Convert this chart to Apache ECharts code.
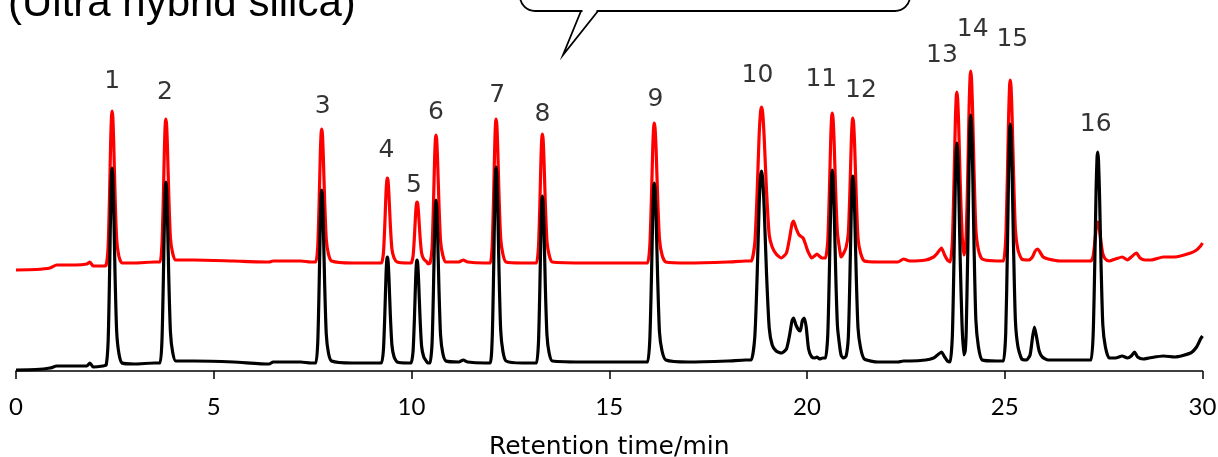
<!DOCTYPE html>
<html>
<head>
<meta charset="utf-8">
<script src="https://cdn.jsdelivr.net/npm/echarts@6/dist/echarts.min.js"></script>
<style>
html,body{margin:0;padding:0;background:#fff;}
#chart{width:1218px;height:457px;}
</style>
</head>
<body>
<div id="chart"></div>
<script>
// ---------------- data ----------------
const titleText = '(Ultra hybrid silica)';
const xAxisName = 'Retention time/min';
const xTicks = [0, 5, 10, 15, 20, 25, 30];

// Lower trace (black): [retention time / min, signal]
const blackTrace = [
 [0,1],[0.5,1.5],[0.86,3],[1.03,5],[1.5,5],[1.79,5],[1.87,8],[1.95,4],[2.2,5],
 [2.28,6],[2.33,30],[2.365,95],[2.395,168],[2.415,197],[2.43,203],[2.448,195],[2.47,164],[2.505,95],[2.545,40],[2.60,18],[2.68,8],
 [3.0,7],[3.5,8],
 [3.64,8],[3.69,30],[3.725,90],[3.755,156],[3.775,184],[3.79,189],[3.808,182],[3.83,153],[3.865,90],[3.905,39],[3.96,19],[4.04,10],
 [4.5,10],[5.5,9],[6.4,7],[6.5,9],[7.2,9],[7.45,8],
 [7.58,8],[7.63,29],[7.665,86],[7.695,150],[7.715,176],[7.73,181],[7.748,174],[7.77,146],[7.805,86],[7.845,37],[7.90,18],[7.98,10],
 [8.5,8],[9.1,8],
 [9.24,8],[9.29,21],[9.325,56],[9.355,95],[9.375,111],[9.39,114],[9.408,110],[9.43,93],[9.465,56],[9.505,26],[9.56,14],[9.64,9],
 [9.9,8],
 [9.99,8],[10.04,20],[10.075,54],[10.105,92],[10.125,108],[10.14,111],[10.158,107],[10.18,90],[10.215,54],[10.255,25],[10.31,14],[10.39,9],[10.42,8],
 [10.47,8],[10.52,28],[10.555,81],[10.585,142],[10.605,166],[10.62,171],[10.638,164],[10.66,138],[10.695,81],[10.735,36],[10.79,18],[10.87,10],
 [11.2,9],[11.31,11],[11.42,9],[11.85,8],
 [11.99,8],[12.04,32],[12.075,96],[12.105,169],[12.125,198],[12.14,204],[12.158,196],[12.18,165],[12.215,96],[12.255,41],[12.31,20],[12.39,10],
 [12.8,8],[13.05,8],
 [13.16,8],[13.21,28],[13.245,83],[13.275,145],[13.295,170],[13.31,175],[13.328,168],[13.35,142],[13.385,83],[13.425,36],[13.48,18],[13.56,10],
 [14.5,9],[15.5,9],[15.85,9],
 [15.97,9],[16.025,31],[16.065,90],[16.10,156],[16.123,183],[16.14,188],[16.16,181],[16.186,152],[16.226,90],[16.27,39],[16.335,20],[16.43,11],
 [17,9],[18,10],[18.45,11],
 [18.59,11],[18.68,34],[18.74,96],[18.79,166],[18.825,194],[18.85,200],[18.88,192],[18.918,162],[18.978,96],[19.045,43],[19.12,26],[19.22,20],[19.35,18],
 [19.48,22],[19.56,36],[19.62,50],[19.66,53],[19.72,46],[19.79,41],[19.83,40],[19.88,50],[19.93,53],[19.98,44],[20.04,22],[20.12,14],[20.2,13],[20.25,14],[20.32,12],[20.40,13],
 [20.47,13],[20.525,36],[20.565,98],[20.60,167],[20.623,195],[20.64,201],[20.66,193],[20.686,163],[20.726,98],[20.77,45],[20.835,22],[20.87,15],[20.93,13],[20.99,15],
 [21.045,34],[21.085,94],[21.12,162],[21.143,190],[21.16,195],[21.18,188],[21.206,158],[21.246,94],[21.29,43],[21.355,23],[21.45,12],
 [21.8,9],[22.3,9],[22.44,10],[22.6,10],[23.0,11],[23.2,13],[23.3,16],[23.40,19],[23.48,14],[23.55,10],[23.62,9],
 [23.675,35],[23.715,108],[23.75,189],[23.773,221],[23.79,228],[23.81,219],[23.836,184],[23.876,108],[23.92,46],[23.965,16],
 [24.0,20],[24.025,39],[24.065,120],[24.10,212],[24.123,249],[24.14,256],[24.16,246],[24.186,207],[24.226,120],[24.27,51],[24.335,24],[24.43,11],
 [24.8,10],[24.9,10],
 [24.97,10],[25.025,38],[25.065,117],[25.10,204],[25.123,240],[25.14,247],[25.16,238],[25.186,200],[25.226,117],[25.27,50],[25.335,24],[25.43,12],
 [25.55,11],[25.64,16],[25.70,33],[25.75,44],[25.80,35],[25.87,20],[25.95,14],[26.1,11],[26.6,11],[27.05,11],
 [27.18,11],[27.235,36],[27.275,105],[27.31,182],[27.333,213],[27.35,219],[27.37,211],[27.396,177],[27.436,105],[27.48,46],[27.545,24],[27.64,13],
 [27.8,13],[27.97,15],[28.1,13],[28.2,15],[28.28,19],[28.36,14],[28.5,12],[28.65,13],[29.01,15],[29.3,14],[29.70,18],[29.85,24],[29.95,32],[30,35]
];

// Upper trace (red): [retention time / min, signal]
const redTrace = [
 [0,101],[0.5,101.5],[0.86,103],[1.03,106],[1.5,106],[1.79,107],[1.87,109],[1.95,105],[2.2,105],
 [2.28,106],[2.33,125],[2.365,175],[2.395,232],[2.415,255],[2.43,260],[2.448,254],[2.47,229],[2.505,175],[2.545,132],[2.60,115],[2.68,108],
 [3.0,108],[3.5,109],
 [3.64,109],[3.69,126],[3.725,173],[3.755,226],[3.775,248],[3.79,252],[3.808,246],[3.83,223],[3.865,173],[3.905,133],[3.96,118],[4.04,111],
 [4.5,111],[5.5,110],[6.4,109],[6.5,110],[7.2,110],[7.45,109],
 [7.58,109],[7.63,125],[7.665,169],[7.695,218],[7.715,238],[7.73,242],[7.748,237],[7.77,215],[7.805,169],[7.845,132],[7.90,117],[7.98,110],
 [8.5,108],[9.1,108],
 [9.24,108],[9.29,118],[9.325,146],[9.355,178],[9.375,190],[9.39,193],[9.408,190],[9.43,176],[9.465,146],[9.505,122],[9.56,113],[9.64,109],
 [9.9,108],
 [9.99,108],[10.04,115],[10.075,135],[10.105,158],[10.125,167],[10.14,169],[10.158,167],[10.18,157],[10.215,135],[10.255,118],[10.31,112],[10.39,109],[10.42,107],
 [10.47,108],[10.52,123],[10.555,166],[10.585,213],[10.605,232],[10.62,236],[10.638,231],[10.66,210],[10.695,166],[10.735,130],[10.79,116],[10.87,109],
 [11.2,109],[11.31,111],[11.42,109],[11.85,108],
 [11.99,108],[12.04,125],[12.075,173],[12.105,226],[12.125,248],[12.14,252],[12.158,246],[12.18,223],[12.215,173],[12.255,133],[12.31,117],[12.39,109],
 [12.8,108],[13.05,108],
 [13.16,108],[13.21,124],[13.245,166],[13.275,214],[13.295,233],[13.31,237],[13.328,232],[13.35,211],[13.385,166],[13.425,130],[13.48,116],[13.56,109],
 [14.5,108],[15.5,108],[15.85,108],
 [15.97,108],[16.025,125],[16.065,171],[16.10,223],[16.123,244],[16.14,248],[16.16,242],[16.186,220],[16.226,171],[16.27,132],[16.335,116],[16.43,109],
 [17,108],[18,109],[18.45,110],
 [18.59,110],[18.68,128],[18.74,179],[18.79,236],[18.825,259],[18.85,264],[18.88,258],[18.918,233],[18.978,179],[19.045,136],[19.12,124],[19.22,117],[19.35,113],
 [19.48,118],[19.56,133],[19.62,147],[19.66,150],[19.72,143],[19.80,136],[19.90,133],[19.96,127],[20.02,120],[20.12,113],[20.19,115],[20.25,117],[20.31,115],[20.38,113],[20.42,113],
 [20.47,113],[20.525,130],[20.565,178],[20.60,232],[20.623,254],[20.64,258],[20.66,252],[20.686,229],[20.726,178],[20.77,138],[20.835,119],[20.86,114],[20.93,118],[20.99,124],
 [21.045,138],[21.085,180],[21.12,229],[21.143,249],[21.16,253],[21.18,247],[21.206,224],[21.246,174],[21.29,133],[21.355,118],[21.45,110],
 [21.8,109],[22.3,109],[22.44,112],[22.6,110],[23.0,111],[23.2,114],[23.3,118],[23.40,123],[23.48,116],[23.55,111],[23.62,109],
 [23.675,129],[23.715,186],[23.75,248],[23.773,274],[23.79,279],[23.81,272],[23.836,245],[23.876,186],[23.92,138],[23.965,116],
 [24.0,122],[24.025,135],[24.065,196],[24.10,266],[24.123,294],[24.14,300],[24.16,292],[24.186,262],[24.226,196],[24.27,142],[24.335,121],[24.43,112],
 [24.8,110],[24.9,110],
 [24.97,110],[25.025,132],[25.065,192],[25.10,258],[25.123,286],[25.14,291],[25.16,284],[25.186,255],[25.226,192],[25.27,141],[25.335,121],[25.43,112],
 [25.6,111],[25.70,114],[25.77,120],[25.83,122],[25.89,119],[25.97,114],[26.1,112],[26.4,110],[27.05,110],
 [27.18,110],[27.235,115],[27.275,128],[27.31,142],[27.333,148],[27.35,149],[27.37,147],[27.396,141],[27.436,128],[27.48,117],[27.545,112],[27.64,110],
 [27.8,112],[27.97,114],[28.1,111],[28.2,114],[28.33,118],[28.42,113],[28.55,111],[28.7,111],[29.01,114],[29.3,114],[29.70,118],[29.85,121],[29.95,125],[30,128]
];

// Peak numbering: label, retention time, top of tallest trace at that peak
const peakLabels = ['1','2','3','4','5','6','7','8','9','10','11','12','13','14','15','16'];
const peakTimes  = [2.43,3.79,7.73,9.39,10.14,10.62,12.14,13.31,16.14,18.85,20.64,21.16,23.79,24.14,25.14,27.35];
const peakTops   = [260,252,242,193,169,236,252,237,248,264,258,253,279,300,291,219];

// ---------------- styling / layout ----------------
const labelOffsets = [[0,-30],[-1,-27],[1,-23],[-1,-28],[-3,-17],[0,-23],[1,-24],[0,-20],[1,-24],[-4,-32],[-11,-34],[8,-28],[-15,-37],[2,-42],[2,-41],[-2,-28]];
const numFont = '"DejaVu Sans", sans-serif';

const chart = echarts.init(document.getElementById('chart'), null, {renderer:'canvas'});

const labelData = peakLabels.map((n, i) => ({
  name: n,
  value: [peakTimes[i], peakTops[i]],
  label: { offset: labelOffsets[i], color: '#000' }
}));

chart.setOption({
  animation: false,
  backgroundColor: '#fff',
  grid: { left: 16, right: 15.5, top: 0, bottom: 86, containLabel: false, outerBoundsMode: 'none' },
  xAxis: {
    type: 'value', min: 0, max: 30, interval: 5,
    name: xAxisName, nameLocation: 'middle', nameGap: 64,
    nameTextStyle: { fontFamily: numFont, fontSize: 25, color: '#000' },
    axisLine: { show: true, onZero: false, lineStyle: { color: '#000', width: 1.5 } },
    axisTick: { show: true, inside: false, length: 8, lineStyle: { color: '#000', width: 1.5 } },
    axisLabel: { fontFamily: 'Lato, sans-serif', fontSize: 24, color: '#000', margin: 24,
      formatter: v => (xTicks.indexOf(v) >= 0 ? String(v) : '') },
    splitLine: { show: false }
  },
  yAxis: { type: 'value', min: 0, max: 371, show: false, splitLine: { show: false } },
  series: [
    { type: 'line', name: 'red', data: redTrace, showSymbol: false, smooth: 0.2,
      lineStyle: { color: '#FF0000', width: 3.2 }, z: 2 },
    { type: 'line', name: 'black', data: blackTrace, showSymbol: false, smooth: 0.2,
      lineStyle: { color: '#000000', width: 3.2 }, z: 3 },
    { type: 'scatter', name: 'labels', data: labelData, symbolSize: 0, z: 4, silent: true,
      label: { show: true, position: 'inside', formatter: p => p.name,
        fontFamily: numFont, fontSize: 25, color: '#000', textBorderWidth: 0 } }
  ],
  graphic: [
    { type: 'text', left: 8, top: -17, z: 10,
      style: { text: titleText, font: '42px "Liberation Sans", Arial, sans-serif', fill: '#000' } },
    { type: 'rect', z: 10, shape: { x: 520, y: -40, width: 390, height: 51, r: 15 },
      style: { fill: '#fff', stroke: '#000', lineWidth: 1.8 } },
    { type: 'rect', z: 11, shape: { x: 582.5, y: 8, width: 14, height: 5 },
      style: { fill: '#fff', stroke: null } },
    { type: 'polyline', z: 12, shape: { points: [[581, 11], [563, 55], [598, 11]] },
      style: { fill: null, stroke: '#000', lineWidth: 1.8, lineJoin: 'miter' } }
  ]
});
</script>
</body>
</html>
